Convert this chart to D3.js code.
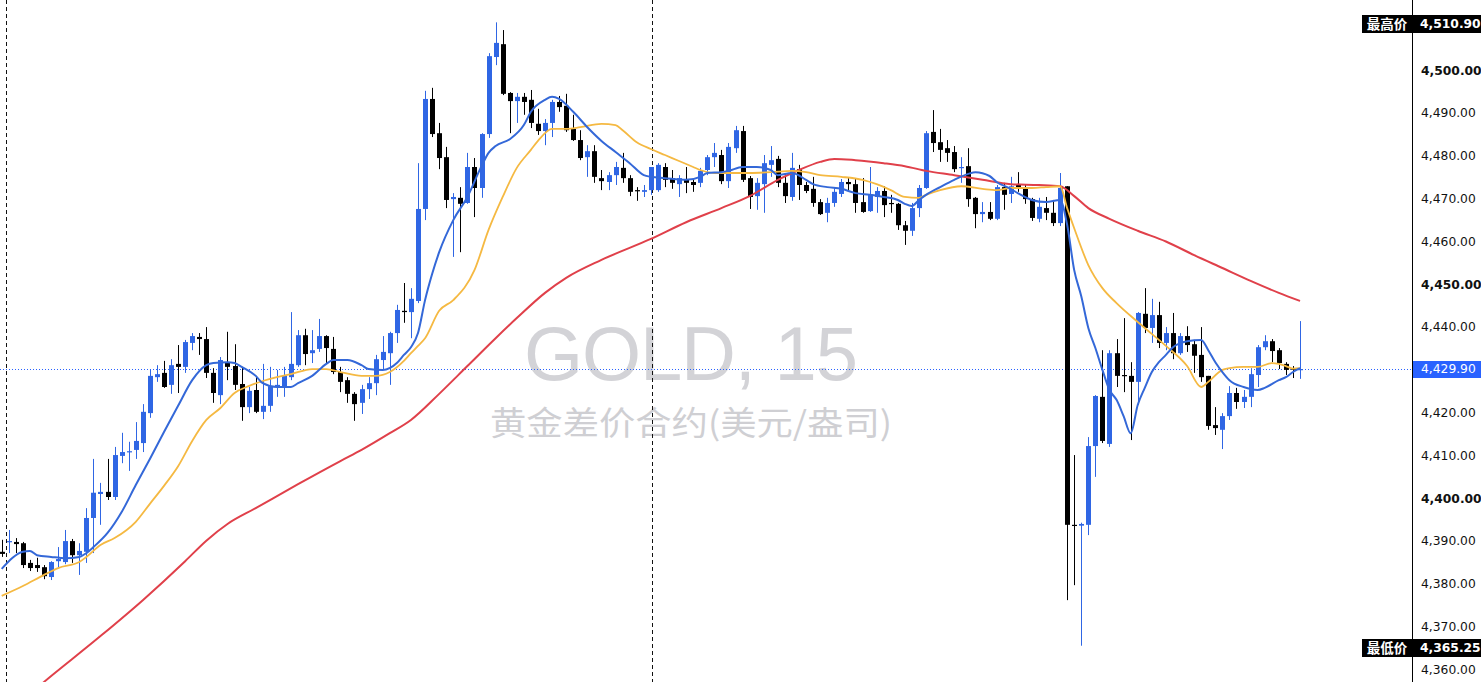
<!DOCTYPE html>
<html><head><meta charset="utf-8">
<script src="https://cdn.jsdelivr.net/npm/d3@7"></script>
<style>html,body{margin:0;padding:0;background:#fff;overflow:hidden}
#wrap{position:relative;width:1481px;height:682px}
#c{position:absolute;left:0;top:0}
.ptag{position:absolute;left:1413px;width:68px;height:17px;background:#2962ff;color:#fff;font:12.3px "DejaVu Sans",Verdana,sans-serif;line-height:17px;padding-left:8px;box-sizing:border-box}
</style>
</head><body><div id="wrap"><svg id="c" width="1481" height="682"></svg></div>
<script>
// ---- data: 15-minute GOLD candles (oldest -> newest) ----
const openP = [4387.2,4389.5,4389.5,4389.2,4384.6,4384.1,4383.6,4381.3,4385.0,4384.8,4389.7,4386.4,4387.2,4395.1,4400.7,4401.2,4400.0,4409.6,4410.5,4411.0,4412.6,4419.6,4428.0,4429.0,4426.2,4431.1,4430.4,4436.0,4437.4,4436.9,4429.0,4423.8,4431.5,4430.6,4426.4,4421.0,4425.0,4419.9,4421.3,4425.7,4425.7,4428.0,4430.8,4437.8,4433.6,4434.6,4437.6,4434.6,4429.2,4427.3,4424.1,4422.0,4425.2,4426.6,4432.0,4433.6,4438.3,4443.5,4443.2,4445.8,4467.3,4493.0,4485.0,4479.4,4469.6,4469.9,4468.7,4477.1,4472.2,4484.8,4502.8,4505.8,4494.4,4492.5,4493.5,4492.8,4487.2,4485.5,4487.4,4492.3,4491.4,4486.0,4483.4,4479.4,4480.8,4474.5,4473.6,4475.2,4476.9,4474.5,4471.7,4471.3,4471.7,4471.7,4477.1,4474.5,4473.1,4474.1,4473.6,4473.4,4476.4,4479.4,4479.9,4473.8,4481.5,4485.5,4474.5,4470.3,4473.1,4477.6,4479.0,4473.4,4470.1,4476.6,4472.9,4472.0,4468.9,4466.4,4468.7,4470.8,4473.6,4473.1,4468.9,4466.8,4470.1,4471.5,4468.7,4468.5,4463.5,4462.2,4467.5,4472.2,4485.3,4482.9,4481.5,4480.6,4476.9,4477.3,4469.9,4466.1,4466.6,4465.0,4472.4,4470.8,4472.9,4472.4,4469.6,4465.0,4467.5,4466.4,4464.0,4472.6,4393.5,4393.3,4393.5,4411.9,4423.4,4412.4,4433.6,4428.5,4428.3,4426.9,4442.8,4439.5,4442.5,4436.0,4438.3,4433.6,4437.6,4435.7,4433.2,4428.3,4416.8,4415.7,4418.9,4424.3,4422.2,4423.4,4428.5,4435.0,4436.4,4434.3,4431.1,4430.0,4429.8];
const highP = [4390.0,4392.3,4390.4,4389.5,4385.3,4385.8,4384.1,4385.0,4388.3,4392.3,4390.2,4389.2,4397.4,4408.9,4403.3,4408.9,4411.7,4415.0,4412.9,4417.5,4421.7,4429.7,4430.8,4431.8,4432.2,4435.5,4436.7,4438.3,4438.3,4439.7,4430.1,4432.7,4438.6,4435.7,4430.4,4425.7,4428.3,4431.1,4430.4,4429.7,4430.4,4443.2,4439.0,4439.3,4439.0,4441.6,4437.8,4437.4,4430.4,4428.0,4424.5,4426.2,4428.0,4433.2,4437.6,4438.6,4444.9,4450.0,4448.8,4478.0,4494.9,4495.6,4487.4,4481.8,4471.0,4472.4,4480.4,4479.2,4485.0,4503.7,4510.9,4509.1,4494.6,4494.4,4494.4,4495.1,4490.7,4488.3,4492.8,4493.7,4494.2,4489.3,4485.7,4482.2,4482.2,4476.4,4475.9,4478.3,4480.4,4475.2,4472.4,4472.9,4477.1,4478.0,4478.0,4476.4,4475.2,4477.1,4474.5,4476.9,4479.9,4482.7,4481.1,4482.7,4486.7,4486.7,4475.0,4474.5,4479.9,4482.0,4479.7,4475.7,4480.4,4477.6,4473.6,4474.8,4469.6,4469.9,4472.4,4474.3,4474.5,4474.3,4474.5,4477.1,4472.4,4472.6,4470.6,4468.7,4464.5,4468.7,4472.9,4485.5,4490.4,4486.0,4483.4,4482.0,4479.4,4481.5,4470.1,4468.9,4468.9,4472.9,4473.4,4474.8,4475.9,4472.9,4469.9,4469.9,4470.1,4469.4,4475.7,4472.6,4409.8,4394.0,4414.0,4423.8,4434.3,4434.3,4436.9,4441.8,4431.5,4443.2,4448.8,4446.3,4445.6,4439.7,4443.0,4438.3,4439.9,4436.7,4439.7,4428.3,4421.0,4419.6,4425.9,4425.5,4425.0,4430.1,4435.5,4437.8,4436.9,4434.8,4431.5,4430.6,4441.1];
const lowP = [4386.0,4386.9,4386.9,4383.4,4382.7,4382.5,4380.8,4380.6,4383.6,4384.3,4384.6,4381.8,4384.6,4386.9,4393.5,4399.3,4399.3,4407.9,4406.1,4408.9,4410.5,4418.5,4426.9,4425.5,4424.1,4424.3,4429.0,4434.3,4433.2,4427.8,4422.0,4421.7,4427.3,4425.0,4417.8,4419.6,4419.6,4418.2,4419.9,4423.4,4423.4,4427.3,4430.4,4430.8,4431.3,4433.9,4431.3,4428.7,4424.5,4422.0,4417.8,4419.4,4422.9,4423.8,4429.7,4426.2,4436.0,4440.7,4437.1,4445.3,4464.7,4484.1,4476.6,4467.5,4456.1,4457.2,4468.5,4465.4,4469.9,4483.9,4500.9,4493.9,4485.0,4487.4,4489.3,4486.2,4484.6,4482.2,4484.1,4490.0,4485.3,4483.2,4478.7,4474.8,4473.4,4471.7,4471.7,4472.9,4473.4,4470.3,4469.2,4470.1,4470.6,4471.3,4472.4,4472.0,4470.1,4471.0,4471.3,4472.4,4475.2,4477.1,4473.1,4472.2,4480.4,4473.6,4467.3,4467.1,4466.4,4474.8,4472.4,4468.7,4469.2,4469.4,4471.0,4467.8,4465.9,4464.2,4467.8,4470.1,4471.3,4466.4,4466.4,4466.6,4466.4,4465.4,4466.4,4462.4,4458.9,4461.0,4465.4,4472.0,4480.6,4478.3,4478.3,4475.9,4473.4,4467.8,4462.8,4464.2,4464.7,4464.7,4467.1,4468.7,4471.3,4468.5,4464.5,4464.2,4464.7,4463.3,4463.3,4375.9,4379.4,4365.25,4391.1,4404.7,4412.6,4411.7,4425.7,4424.5,4413.3,4421.5,4438.3,4436.0,4434.8,4434.3,4432.2,4433.2,4433.9,4429.0,4426.9,4415.7,4414.5,4411.2,4418.0,4420.6,4420.8,4421.0,4425.7,4434.3,4431.5,4429.9,4428.5,4427.8,4427.6];
const closeP = [4386.7,4389.7,4389.0,4384.1,4383.4,4383.4,4381.5,4384.8,4385.5,4389.7,4386.4,4387.4,4395.1,4401.0,4401.2,4400.0,4409.8,4410.5,4410.7,4413.1,4419.9,4428.3,4428.7,4425.7,4430.8,4430.4,4436.2,4437.6,4436.9,4429.0,4424.3,4432.0,4430.4,4426.2,4421.0,4424.8,4419.9,4421.3,4425.9,4426.2,4428.3,4431.1,4437.8,4433.4,4434.3,4437.6,4434.8,4429.2,4426.9,4424.1,4421.7,4425.2,4426.6,4432.2,4433.9,4438.3,4443.7,4443.2,4446.3,4467.3,4493.0,4484.8,4479.2,4469.4,4470.1,4468.5,4477.1,4472.2,4484.8,4503.0,4506.1,4494.2,4492.5,4493.5,4492.3,4487.4,4485.5,4487.4,4492.3,4491.1,4485.7,4483.4,4479.2,4480.8,4474.8,4473.8,4475.2,4477.1,4474.5,4471.3,4471.5,4471.7,4477.1,4477.6,4474.1,4473.4,4474.5,4473.4,4472.9,4476.2,4479.4,4480.4,4473.8,4481.8,4485.7,4474.1,4470.1,4473.4,4478.0,4478.7,4473.4,4470.3,4476.9,4472.9,4471.5,4468.7,4466.1,4468.7,4471.3,4473.6,4473.1,4468.7,4466.6,4470.6,4471.5,4468.2,4468.5,4463.5,4462.2,4467.5,4472.2,4485.0,4482.7,4481.1,4480.4,4476.6,4477.1,4469.6,4466.1,4466.6,4465.0,4472.4,4470.6,4472.6,4472.4,4469.6,4465.2,4467.8,4466.4,4464.0,4472.2,4393.5,4393.3,4393.7,4411.9,4423.6,4413.1,4433.6,4428.3,4428.3,4426.9,4443.0,4439.5,4442.5,4436.0,4438.3,4433.6,4437.6,4435.5,4433.0,4428.0,4416.6,4416.1,4418.9,4424.3,4422.2,4423.4,4428.7,4435.0,4436.4,4434.1,4431.3,4429.7,4429.8,4429.9];

// moving averages, read as [candle index, value]
const maFast = [[0,4383.2],[3,4387.2],[4,4387.4],[5,4386.4],[7,4386.0],[9,4385.7],[11,4386.0],[12,4386.9],[13,4388.3],[15,4391.6],[17,4396.5],[19,4402.8],[21,4408.9],[23,4415.2],[25,4421.3],[27,4427.3],[29,4430.8],[30,4431.3],[32,4431.5],[33,4431.3],[34,4430.4],[36,4428.3],[37,4426.6],[39,4425.7],[41,4425.7],[42,4426.6],[44,4428.3],[46,4431.1],[47,4432.0],[49,4432.0],[51,4430.8],[52,4429.9],[54,4429.7],[56,4431.3],[57,4433.2],[58,4435.0],[59,4438.3],[60,4446.0],[61,4452.1],[62,4457.2],[64,4464.7],[66,4470.1],[68,4477.3],[69,4480.4],[70,4482.0],[72,4483.6],[74,4486.9],[75,4490.0],[77,4492.8],[78,4493.5],[79,4493.0],[81,4490.0],[83,4486.4],[85,4483.2],[87,4480.6],[89,4478.0],[91,4475.2],[92,4474.8],[94,4474.5],[97,4474.1],[99,4474.8],[100,4475.7],[102,4475.9],[103,4476.2],[105,4477.1],[107,4477.1],[109,4476.4],[110,4475.2],[112,4475.7],[114,4474.1],[115,4473.1],[117,4472.4],[119,4472.0],[121,4471.0],[123,4470.6],[125,4470.1],[127,4469.4],[128,4468.5],[129,4468.0],[130,4469.4],[131,4470.6],[133,4472.4],[135,4474.1],[137,4475.5],[138,4475.9],[140,4475.0],[141,4473.6],[143,4472.0],[144,4471.0],[146,4469.4],[148,4468.9],[150,4469.4],[151,4463.6],[152,4453.0],[153,4446.9],[154,4439.5],[155,4434.8],[156,4429.7],[157,4425.0],[158,4422.7],[159,4418.9],[160,4414.9],[161,4421.5],[162,4425.5],[163,4429.2],[164,4431.5],[165,4433.2],[166,4435.0],[168,4436.4],[170,4436.7],[171,4434.3],[172,4431.5],[173,4429.2],[174,4427.3],[176,4425.7],[178,4425.0],[179,4425.5],[181,4427.3],[182,4428.0],[183,4429.2],[184,4430.1]];
const maMid = [[0,4376.9],[3,4379.2],[6,4381.8],[8,4383.4],[11,4384.8],[12,4386.0],[14,4388.8],[16,4390.4],[19,4394.2],[21,4398.4],[23,4402.6],[25,4407.2],[27,4413.1],[29,4418.0],[31,4420.8],[33,4424.3],[35,4425.9],[37,4427.1],[39,4428.0],[41,4428.7],[44,4429.9],[46,4429.9],[48,4429.2],[51,4428.3],[53,4428.3],[55,4429.2],[57,4431.8],[58,4433.6],[59,4435.3],[60,4437.1],[62,4443.5],[64,4446.0],[67,4453.0],[69,4462.4],[71,4470.1],[73,4476.9],[75,4481.1],[76,4483.2],[78,4486.0],[80,4486.0],[82,4486.4],[85,4487.2],[87,4486.9],[88,4485.7],[90,4482.9],[92,4481.3],[94,4479.9],[96,4478.5],[98,4477.1],[99,4476.4],[101,4475.7],[103,4475.7],[106,4475.7],[109,4475.9],[112,4476.2],[114,4475.9],[116,4475.2],[119,4474.8],[122,4474.1],[124,4473.1],[126,4471.7],[128,4470.1],[130,4469.9],[131,4470.6],[133,4471.7],[136,4472.6],[139,4472.0],[141,4471.7],[143,4472.2],[146,4472.2],[148,4472.4],[150,4472.6],[151,4467.5],[152,4462.8],[154,4454.2],[156,4448.8],[158,4445.3],[161,4440.9],[163,4438.1],[165,4435.3],[168,4430.6],[170,4425.7],[171,4426.9],[173,4429.7],[174,4430.1],[176,4430.4],[178,4430.4],[180,4431.3],[181,4431.1],[182,4430.6],[183,4430.0],[184,4430.1]];
const maSlow = [[0,4348.4],[6,4356.8],[14,4367.5],[20,4375.9],[26,4385.0],[29,4389.8],[32,4393.7],[36,4397.4],[42,4403.0],[48,4408.4],[51,4411.0],[55,4414.9],[58,4418.0],[62,4424.1],[66,4430.6],[70,4437.1],[73,4441.8],[77,4447.7],[80,4451.2],[85,4455.4],[92,4460.3],[97,4464.2],[102,4467.5],[106,4470.3],[110,4474.1],[113,4476.4],[116,4478.3],[118,4479.0],[121,4478.7],[125,4478.0],[128,4477.3],[131,4476.2],[135,4475.2],[139,4474.1],[143,4473.1],[147,4472.9],[150,4472.6],[152,4470.3],[154,4467.5],[157,4465.0],[161,4462.2],[165,4459.7],[169,4456.5],[173,4453.5],[177,4450.5],[181,4447.7],[184,4445.8]];

const priceTicks = [4360,4370,4380,4390,4400,4410,4420,4430,4440,4450,4460,4470,4480,4490,4500];
const lastPrice = 4429.9;
const highMark = {label:"最高价", value:4510.90};
const lowMark = {label:"最低价", value:4365.25};
const markerCandles = [0.6, 92.2]; // dashed vertical separators (candle position)
const titleMain = "GOLD, 15";
const titleSub = "黄金差价合约(美元/盎司)";

// ---- drawing ----
const W = 1481, H = 682, axisX = 1412;
const svg = d3.select('#c');
const y = d3.scaleLinear().domain([4360, 4500]).range([668.2, 69]);
const x = d3.scaleLinear().domain([0, closeP.length - 1]).range([1.7, 1300]);
const BLUE = "#2f66e4", BLACK = "#000000", TAGBLUE = "#2962ff";

svg.append("rect").attr("width", W).attr("height", H).attr("fill", "#fff");
svg.append("defs").append("clipPath").attr("id", "plot")
  .append("rect").attr("x", 0).attr("y", 0).attr("width", axisX).attr("height", H);

// watermark
svg.append("text").attr("x", 691).attr("y", 380).attr("text-anchor", "middle")
  .attr("font-family", "Liberation Sans, Arial, sans-serif").attr("font-size", 76)
  .attr("fill", "#d3d3d7").attr("textLength", 334).attr("lengthAdjust", "spacing").text(titleMain);
svg.append("text").attr("x", 691).attr("y", 435).attr("text-anchor", "middle")
  .attr("font-family", "Noto Sans CJK SC, sans-serif").attr("font-size", 33)
  .attr("fill", "#cfcfd3").attr("textLength", 402).attr("lengthAdjust", "spacingAndGlyphs").text(titleSub);

const plot = svg.append("g").attr("clip-path", "url(#plot)");

// vertical dashed separators
plot.selectAll("line.sep").data(markerCandles).join("line").attr("class", "sep")
  .attr("x1", d => Math.round(x(d)) + 0.5).attr("x2", d => Math.round(x(d)) + 0.5)
  .attr("y1", 0).attr("y2", H).attr("stroke", "#111").attr("stroke-width", 1)
  .attr("stroke-dasharray", "4,3");

// last price dotted line
const lp = Math.round(y(lastPrice));
plot.append("line").attr("x1", 0).attr("x2", axisX)
  .attr("y1", lp + 0.5).attr("y2", lp + 0.5)
  .attr("stroke", TAGBLUE).attr("stroke-width", 1).attr("stroke-dasharray", "1,2");

// candles
const idx = d3.range(closeP.length);
const cg = plot.append("g");
const colorOf = i => closeP[i] >= openP[i] ? BLUE : BLACK;
cg.selectAll("line.wick").data(idx).join("line").attr("class", "wick")
  .attr("x1", i => Math.round(x(i)) + 0.5).attr("x2", i => Math.round(x(i)) + 0.5)
  .attr("y1", i => y(highP[i])).attr("y2", i => y(lowP[i]))
  .attr("stroke", colorOf).attr("stroke-width", 1);
cg.selectAll("rect.body").data(idx).join("rect").attr("class", "body")
  .attr("x", i => Math.round(x(i)) - 2)
  .attr("width", 5)
  .attr("y", i => y(Math.max(openP[i], closeP[i])))
  .attr("height", i => Math.max(1.2, Math.abs(y(openP[i]) - y(closeP[i]))))
  .attr("fill", colorOf);

// moving averages
const line = d3.line().x(d => x(d[0])).y(d => y(d[1])).curve(d3.curveMonotoneX);
plot.append("path").datum(maSlow).attr("d", line).attr("fill", "none")
  .attr("stroke", "#e0404a").attr("stroke-width", 2);
plot.append("path").datum(maMid).attr("d", line).attr("fill", "none")
  .attr("stroke", "#f5b942").attr("stroke-width", 1.8);
plot.append("path").datum(maFast).attr("d", line).attr("fill", "none")
  .attr("stroke", "#3468d8").attr("stroke-width", 2);

// right axis
svg.append("line").attr("x1", axisX + 0.5).attr("x2", axisX + 0.5).attr("y1", 0).attr("y2", H)
  .attr("stroke", "#000").attr("stroke-width", 1);
const fmt = d3.format(",.2f");
svg.append("g").selectAll("text").data(priceTicks.filter(d => Math.abs(y(d) - lp) > 12)).join("text")
  .attr("x", 1421).attr("y", d => y(d) + 1.2).attr("dy", "0.35em")
  .attr("font-family", "DejaVu Sans, Verdana, sans-serif").attr("font-size", 12.3)
  .attr("font-weight", d => d % 50 === 0 ? "bold" : "normal")
  .attr("fill", "#111").text(d => fmt(d));

// last price tag (blue box, white text) as an HTML overlay
d3.select("#wrap").append("div").attr("class", "ptag")
  .style("top", (lp - 8) + "px").text(fmt(lastPrice));

// high / low tags
function tag(m) {
  const cy = Math.round(y(m.value)) + 2;
  svg.append("rect").attr("x", 1362).attr("y", cy - 9).attr("width", axisX - 1362).attr("height", 18).attr("fill", "#000");
  svg.append("rect").attr("x", axisX + 1).attr("y", cy - 9).attr("width", W - axisX - 1).attr("height", 18).attr("fill", "#000");
  svg.append("text").attr("x", 1387).attr("y", cy).attr("dy", "0.35em").attr("text-anchor", "middle")
    .attr("font-family", "Noto Sans CJK SC, sans-serif").attr("font-size", 13.5).attr("font-weight", "bold")
    .attr("fill", "#fff").text(m.label);
  svg.append("text").attr("x", 1420).attr("y", cy).attr("dy", "0.35em")
    .attr("font-family", "DejaVu Sans, Verdana, sans-serif").attr("font-size", 12.3).attr("font-weight", "bold")
    .attr("fill", "#fff").text(fmt(m.value));
}
tag(highMark);
tag(lowMark);
</script></body></html>
